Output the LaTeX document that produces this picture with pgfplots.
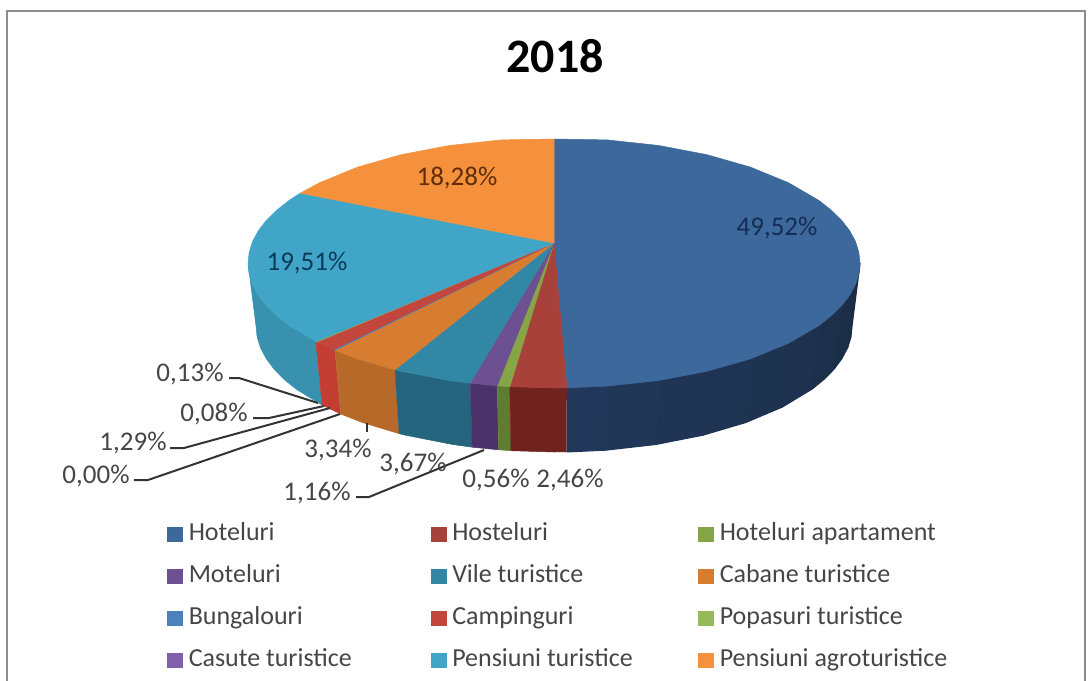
\documentclass[border=0pt]{standalone}
\usepackage{pgfplots}
\pgfplotsset{compat=1.18}
\usepackage{fontspec}
\setmainfont{Carlito}
\definecolor{cHot}{RGB}{61,104,156}
\definecolor{cHos}{RGB}{168,65,58}
\definecolor{cApt}{RGB}{134,165,70}
\definecolor{cMot}{RGB}{108,80,145}
\definecolor{cVil}{RGB}{50,135,165}
\definecolor{cCab}{RGB}{215,125,50}
\definecolor{cBun}{RGB}{75,130,190}
\definecolor{cCam}{RGB}{195,70,60}
\definecolor{cPop}{RGB}{150,185,90}
\definecolor{cCas}{RGB}{130,95,170}
\definecolor{cPen}{RGB}{65,165,200}
\definecolor{cAgr}{RGB}{245,145,60}
\definecolor{sHotA}{RGB}{33,56,90}
\definecolor{sHotC}{RGB}{27,44,68}
\definecolor{sHos}{RGB}{112,34,30}
\definecolor{sApt}{RGB}{95,125,50}
\definecolor{sMot}{RGB}{75,50,105}
\definecolor{sVil}{RGB}{36,100,125}
\definecolor{sCab}{RGB}{182,105,40}
\definecolor{sCam}{RGB}{195,62,50}
\definecolor{sPen}{RGB}{55,145,175}
\definecolor{lab}{RGB}{70,70,70}
\begin{document}
\begin{tikzpicture}
\begin{axis}[
  scale only axis, width=1089pt, height=680pt,
  xmin=0, xmax=1089, ymin=0, ymax=680, y dir=reverse,
  hide axis,
  legend columns=3,
  legend cell align=left,
  legend image code/.code={\fill[#1] (0pt,-7pt) rectangle (15pt,7pt);},
  legend style={at={(0.1534,0.231)}, anchor=north west, draw=none, fill=none,
    font=\fontsize{26}{28}\selectfont, text=lab, inner sep=0pt, row sep=20.2pt,
    nodes={inner sep=0pt, text height=17pt, text depth=5pt},
    /tikz/every odd column/.append style={column sep=6pt}},
  every axis plot/.append style={line width=0.5pt},
]
% frame
\addplot[forget plot, draw=black!45, line width=2pt] coordinates {(7,681)(7,11)(1085,11)(1085,681)};
% side walls
\addplot[forget plot, fill=sPen, draw=sPen] coordinates {(315.9,341.5)(289,325.5)(276.7,315.8)(266.4,305.7)(258.4,295.4)(252.6,284.7)(249.2,273.9)(248,263)(256,326)(257.1,337)(260.5,347.9)(266.2,358.6)(274,369.1)(283.9,379.2)(295.9,389)(322.1,405.1)};
\addplot[forget plot, fill=sCam, draw=sCam] coordinates {(335,350.3)(315.9,341.5)(322.1,405.1)(340.7,414)};
\addplot[forget plot, fill=sCab, draw=sCab] coordinates {(395,369.8)(357.3,358.8)(335,350.3)(340.7,414)(362.4,422.5)(399.2,433.7)};
\addplot[forget plot, fill=sVil, draw=sVil] coordinates {(470.2,383.2)(449.3,380.5)(401,371.3)(395,369.8)(399.2,433.7)(405,435.1)(452.1,444.4)(472.3,447.2)};
\addplot[forget plot, fill=sMot, draw=sMot] coordinates {(497.2,385.8)(470.2,383.2)(472.3,447.2)(498.7,449.8)};
\addplot[forget plot, fill=sApt, draw=sApt] coordinates {(509.8,386.7)(497.2,385.8)(498.7,449.8)(511,450.7)};
\addplot[forget plot, fill=sHos, draw=sHos] coordinates {(566.8,387.9)(554,388)(509.8,386.7)(511,450.7)(554,452)(566.5,451.9)};
\addplot[forget plot, line width=1.2pt, fill=sHotA!100!sHotC, draw=sHotA!100!sHotC] coordinates {(566.8,387.9)(607.1,386.1)(605.7,450.1)(566.5,451.9)};
\addplot[forget plot, line width=1.2pt, fill=sHotA!89!sHotC, draw=sHotA!89!sHotC] coordinates {(607.1,386.1)(658.7,380.5)(655.9,444.4)(605.7,450.1)};
\addplot[forget plot, line width=1.2pt, fill=sHotA!78!sHotC, draw=sHotA!78!sHotC] coordinates {(658.7,380.5)(707,371.3)(703,435.1)(655.9,444.4)};
\addplot[forget plot, line width=1.2pt, fill=sHotA!67!sHotC, draw=sHotA!67!sHotC] coordinates {(707,371.3)(750.7,358.8)(745.6,422.5)(703,435.1)};
\addplot[forget plot, line width=1.2pt, fill=sHotA!56!sHotC, draw=sHotA!56!sHotC] coordinates {(750.7,358.8)(788.4,343.3)(782.3,407)(745.6,422.5)};
\addplot[forget plot, line width=1.2pt, fill=sHotA!44!sHotC, draw=sHotA!44!sHotC] coordinates {(788.4,343.3)(819,325.5)(812.1,389)(782.3,407)};
\addplot[forget plot, line width=1.2pt, fill=sHotA!33!sHotC, draw=sHotA!33!sHotC] coordinates {(819,325.5)(831.3,315.8)(841.6,305.7)(834,369.1)(824.1,379.2)(812.1,389)};
\addplot[forget plot, line width=1.2pt, fill=sHotA!15!sHotC, draw=sHotA!15!sHotC] coordinates {(841.6,305.7)(849.6,295.4)(855.4,284.7)(847.5,347.9)(841.8,358.6)(834,369.1)};
\addplot[forget plot, line width=1.2pt, fill=sHotC, draw=sHotC] coordinates {(855.4,284.7)(858.8,273.9)(860,263)(852,326)(850.9,337)(847.5,347.9)};
% leader lines
\addplot[forget plot, draw=black!80, line width=2pt] coordinates {(229,378)(239,378)(318,403)};
\addplot[forget plot, draw=black!80, line width=2pt] coordinates {(253,418)(269,418)(324,406)};
\addplot[forget plot, draw=black!80, line width=2pt] coordinates {(170,448)(184,448)(330,408)};
\addplot[forget plot, draw=black!80, line width=2pt] coordinates {(134,480)(148,480)(340,414)};
\addplot[forget plot, draw=black!80, line width=2pt] coordinates {(367,423)(367,432)};
\addplot[forget plot, draw=black!80, line width=2pt] coordinates {(356,497)(369,497)(484,450)};
% top surface, one slice per category
\addplot[fill=cHot, draw=cHot] coordinates {(554,243)(554,139)(607.1,139.9)(658.7,145.5)(707,154.7)(750.7,167.2)(788.4,182.7)(819,200.5)(831.3,210.2)(841.6,220.3)(849.6,230.6)(855.4,241.3)(858.8,252.1)(860,263)(858.8,273.9)(855.4,284.7)(849.6,295.4)(841.6,305.7)(831.3,315.8)(819,325.5)(788.4,343.3)(750.7,358.8)(707,371.3)(658.7,380.5)(607.1,386.1)(566.8,387.9)(554,243)};
\addlegendentry{\makebox[242pt][l]{Hoteluri}}
\addplot[fill=cHos, draw=cHos] coordinates {(554,243)(566.8,387.9)(554,388)(509.8,386.7)(554,243)};
\addlegendentry{\makebox[246pt][l]{Hosteluri}}
\addplot[fill=cApt, draw=cApt] coordinates {(554,243)(509.8,386.7)(497.2,385.8)(554,243)};
\addlegendentry{Hoteluri apartament}
\addplot[fill=cMot, draw=cMot] coordinates {(554,243)(497.2,385.8)(470.2,383.2)(554,243)};
\addlegendentry{Moteluri}
\addplot[fill=cVil, draw=cVil] coordinates {(554,243)(470.2,383.2)(449.3,380.5)(401,371.3)(395,369.8)(554,243)};
\addlegendentry{Vile turistice}
\addplot[fill=cCab, draw=cCab] coordinates {(554,243)(395,369.8)(357.3,358.8)(335,350.3)(554,243)};
\addlegendentry{Cabane turistice}
\addplot[fill=cBun, draw=cBun] coordinates {(554,243)(335,350.3)(333.5,349.7)(554,243)};
\addlegendentry{Bungalouri}
\addplot[fill=cCam, draw=cCam] coordinates {(554,243)(333.5,349.7)(316.9,342)(554,243)};
\addlegendentry{Campinguri}
\addplot[fill=cPop, draw=cPop] coordinates {(554,243)(316.9,342)(315.9,341.5)(554,243)};
\addlegendentry{Popasuri turistice}
\addplot[fill=cCas, draw=cCas] coordinates {(554,243)(315.9,341.5)(554,243)};
\addlegendentry{Casute turistice}
\addplot[fill=cPen, draw=cPen] coordinates {(554,243)(315.9,341.5)(289,325.5)(276.7,315.8)(266.4,305.7)(258.4,295.4)(252.6,284.7)(249.2,273.9)(248,263)(249.2,252.1)(252.6,241.3)(258.4,230.6)(266.4,220.3)(276.7,210.2)(289,200.5)(300.3,193.1)(554,243)};
\addlegendentry{Pensiuni turistice}
\addplot[fill=cAgr, draw=cAgr] coordinates {(554,243)(300.3,193.1)(319.6,182.7)(357.3,167.2)(401,154.7)(449.3,145.5)(500.9,139.9)(554,139)(554,243)};
\addlegendentry{Pensiuni agroturistice}
% labels
\node[font=\fontsize{48}{52}\selectfont\bfseries, text=black] at (axis cs:555,56) {2018};
\begin{scope}[every node/.style={font=\fontsize{27}{30}\selectfont, inner sep=0pt}]
\node[text={rgb,255:red,20;green,45;blue,85}] at (axis cs:777,228) {49,52\%};
\node[text={rgb,255:red,10;green,60;blue,90}] at (axis cs:307,263) {19,51\%};
\node[text={rgb,255:red,95;green,45;blue,10}] at (axis cs:457,178) {18,28\%};
\node[text=lab] at (axis cs:190,374) {0,13\%};
\node[text=lab] at (axis cs:214,414) {0,08\%};
\node[text=lab] at (axis cs:133,443) {1,29\%};
\node[text=lab] at (axis cs:96,476) {0,00\%};
\node[text=lab] at (axis cs:338,450) {3,34\%};
\node[text=lab] at (axis cs:413,464) {3,67\%};
\node[text=lab] at (axis cs:317,493) {1,16\%};
\node[text=lab] at (axis cs:496,480) {0,56\%};
\node[text=lab] at (axis cs:570,480) {2,46\%};
\end{scope}
\end{axis}
\path[use as bounding box] (0,0) rectangle (1089pt,680pt);
\end{tikzpicture}
\end{document}
